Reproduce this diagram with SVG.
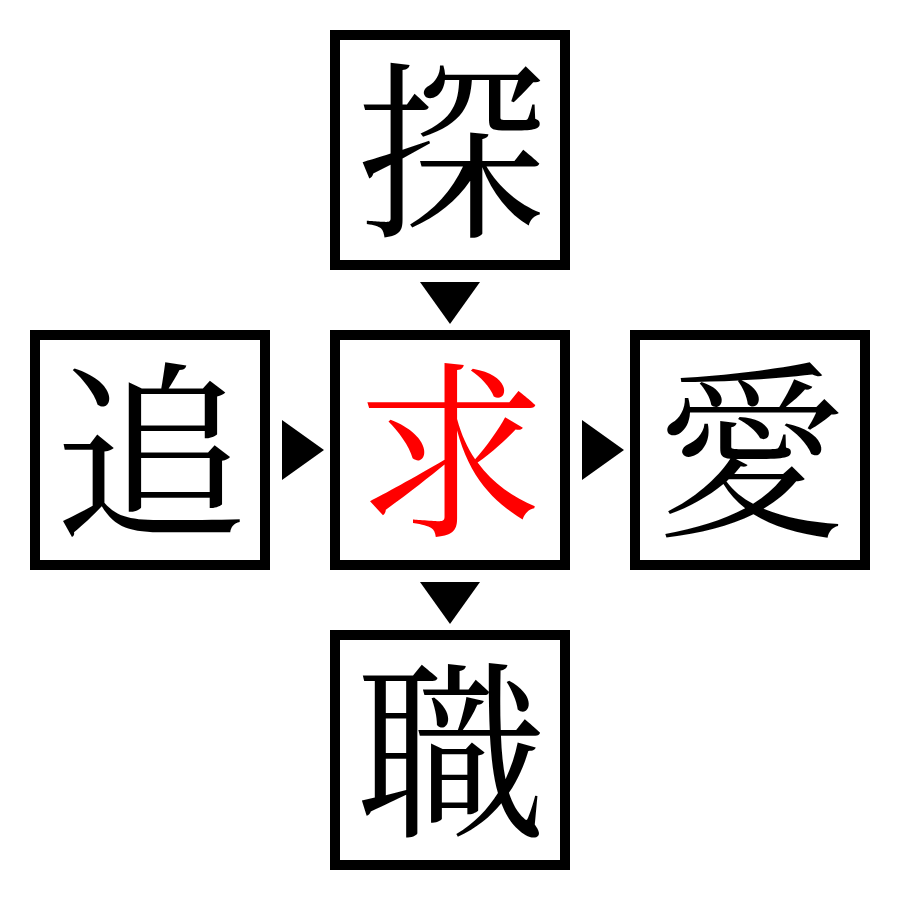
<svg xmlns="http://www.w3.org/2000/svg" width="900" height="900" viewBox="0 0 900 900">
<style>
.box{fill:#fff;stroke:#000;stroke-width:10}
.ch{font-family:"Noto Serif CJK JP","Noto Serif CJK SC","Noto Sans CJK JP",serif;font-size:190px;text-anchor:middle;dominant-baseline:central;fill:#000}
.arr{fill:#000}
</style>
<rect width="900" height="900" fill="#fff"/>
<g id="connectors">
<polygon class="arr" points="420,282 480,282 450,324"/>
<polygon class="arr" points="420,582 480,582 450,624"/>
<polygon class="arr" points="282,420 282,480 324,450"/>
<polygon class="arr" points="582,420 582,480 624,450"/>
</g>
<g id="node-tan"><rect class="box" x="335" y="35" width="230" height="230"/><text class="ch" x="451" y="139">探</text></g>
<g id="node-tsui"><rect class="box" x="35" y="335" width="230" height="230"/><text class="ch" x="151" y="439">追</text></g>
<g id="node-kyu"><rect class="box" x="335" y="335" width="230" height="230"/><text class="ch" x="451" y="439" style="fill:#f00">求</text></g>
<g id="node-ai"><rect class="box" x="635" y="335" width="230" height="230"/><text class="ch" x="751" y="439">愛</text></g>
<g id="node-shoku"><rect class="box" x="335" y="635" width="230" height="230"/><text class="ch" x="451" y="739">職</text></g>
</svg>
